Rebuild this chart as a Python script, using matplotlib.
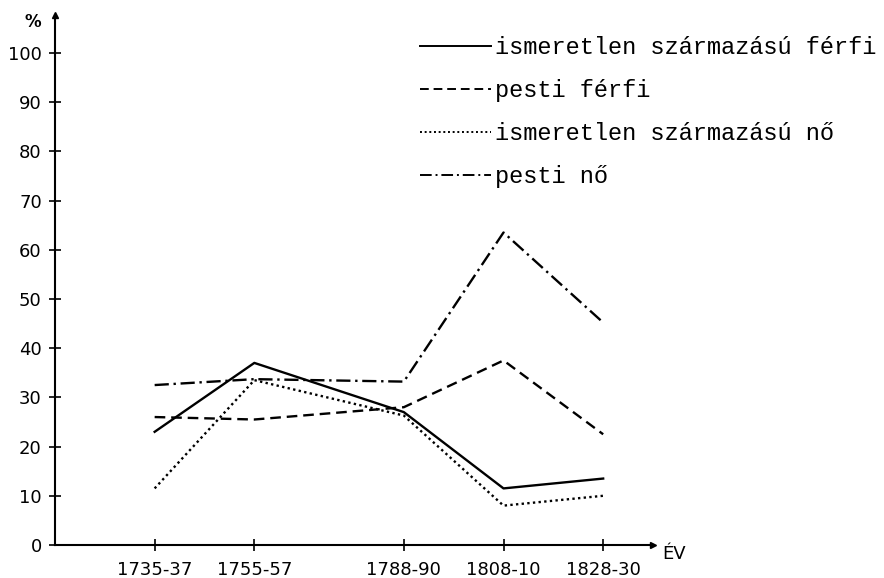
import matplotlib.pyplot as plt

# Időszakok és arányok (%) -- leolvasva az eredeti ábráról
periods = ['1735-37', '1755-57', '1788-90', '1808-10', '1828-30']
x_pos = [0, 1, 2.5, 3.5, 4.5]   # az eredeti ábra nem egyenletes beosztású

ism_ferfi = [23, 37, 27, 11.5, 13.5]
pesti_ferfi = [26, 25.5, 28, 37.5, 22.5]
ism_no = [11.5, 33.5, 26.3, 8, 10]
pesti_no = [32.5, 33.7, 33.2, 63.5, 45.2]

labels = ['ismeretlen származású férfi', 'pesti férfi',
          'ismeretlen származású nő', 'pesti nő']

fig = plt.figure(figsize=(8.84, 5.78), dpi=100)
ax = fig.add_axes([0.0622, 0.0571, 0.6765, 0.917])

lw = 1.7
ax.plot(x_pos, ism_ferfi, color='black', lw=lw, linestyle='-', label=labels[0])
ax.plot(x_pos, pesti_ferfi, color='black', lw=lw, linestyle=(0, (4.5, 2.5)), label=labels[1])
ax.plot(x_pos, ism_no, color='black', lw=lw, linestyle=(0, (1, 1.4)), label=labels[2])
ax.plot(x_pos, pesti_no, color='black', lw=lw, linestyle=(0, (6, 2, 1, 2)), label=labels[3])

# tengelyek nyíllal
for side in ['top', 'right']:
    ax.spines[side].set_visible(False)
for side in ['left', 'bottom']:
    ax.spines[side].set_linewidth(1.5)
ax.set_xlim(-1, 5)
ax.set_ylim(0, 107.7)
ax.plot(1, 0, '>k', markersize=5, transform=ax.get_yaxis_transform(), clip_on=False)
ax.plot(-1, 1, '^k', markersize=5, transform=ax.get_xaxis_transform(), clip_on=False)

ax.set_yticks(range(0, 101, 10))
ax.set_xticks(x_pos, periods)
ax.tick_params(direction='inout', length=9, width=1.2, labelsize=13, pad=5)
ax.tick_params(axis='x', pad=7)

fig.text(0.037, 0.962, '%', fontsize=12, fontweight='bold', ha='center', va='center')
fig.text(0.762, 0.042, 'ÉV', fontsize=13, ha='center', va='center')

leg = ax.legend(loc='upper left', bbox_to_anchor=(0.475, 0.938), bbox_transform=fig.transFigure,
                frameon=False, handlelength=3.0, handletextpad=0.2, labelspacing=0.85,
                borderpad=0, borderaxespad=0,
                prop={'family': 'Liberation Mono', 'size': 17})
for line in leg.get_lines():
    line.set_linewidth(1.4)

fig.savefig('out.png', dpi=100)
